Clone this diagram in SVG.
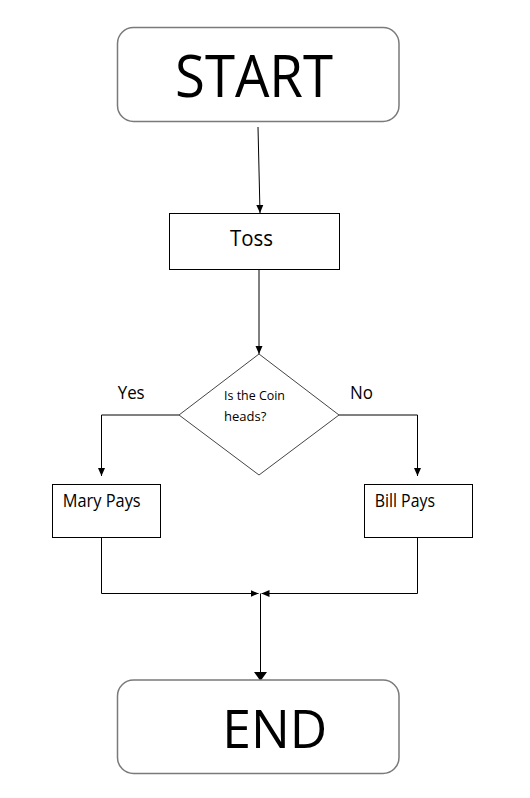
<svg xmlns="http://www.w3.org/2000/svg" width="530" height="798" viewBox="0 0 530 798">
<style>
.t{font-family:"Open Sans","Liberation Sans",sans-serif;fill:#000}
.term{fill:#fff;stroke:#7a7a7a;stroke-width:1.5}
.box{fill:#fff;stroke:#000;stroke-width:1}
.dia{fill:#fff;stroke:#444;stroke-width:1}
.ln{fill:none;stroke:#000;stroke-width:1}
</style>
<defs>
<marker id="ah" markerUnits="userSpaceOnUse" markerWidth="8" markerHeight="8" refX="8" refY="4" orient="auto">
<path d="M0,0.5 L8,4 L0,7.5 Z" fill="#000"/>
</marker>
<marker id="ahb" markerUnits="userSpaceOnUse" markerWidth="10" markerHeight="14" refX="9" refY="7" orient="auto">
<path d="M0,0.5 L9,7 L0,13.5 Z" fill="#000"/>
</marker>
</defs>
<rect width="530" height="798" fill="#fff"/>
<g id="connectors">
<line class="ln" x1="258" y1="127" x2="260" y2="213" marker-end="url(#ah)"/>
<line class="ln" x1="259" y1="269" x2="259" y2="354" marker-end="url(#ah)"/>
<polyline class="ln" points="179,415 101.5,415 101.5,476" marker-end="url(#ah)"/>
<polyline class="ln" points="339,415 417.5,415 417.5,476" marker-end="url(#ah)"/>
<polyline class="ln" points="101.5,537 101.5,593.5 258.5,593.5" marker-end="url(#ah)"/>
<polyline class="ln" points="417.5,537 417.5,593.5 261.5,593.5" marker-end="url(#ah)"/>
<line class="ln" x1="260.5" y1="593.5" x2="260.5" y2="681" marker-end="url(#ahb)"/>
</g>
<g id="start">
<rect class="term" x="117.5" y="27.5" width="281.5" height="94" rx="16"/>
<text class="t" x="175" y="97" font-size="59" textLength="158" lengthAdjust="spacingAndGlyphs">START</text>
</g>
<g id="toss">
<rect class="box" x="169.5" y="213.5" width="170" height="56"/>
<text class="t" x="230" y="246" font-size="21.5" textLength="43" lengthAdjust="spacingAndGlyphs">Toss</text>
</g>
<g id="decision">
<polygon class="dia" points="259,354 339,415 259,475 179,415"/>
<text class="t" x="224" y="400" font-size="11.7" textLength="61" lengthAdjust="spacingAndGlyphs">Is the Coin</text>
<text class="t" x="224" y="420.7" font-size="11.7" textLength="42.3" lengthAdjust="spacingAndGlyphs">heads?</text>
</g>
<g id="label-yes">
<text class="t" x="117.7" y="399" font-size="18.7" textLength="27" lengthAdjust="spacingAndGlyphs">Yes</text>
</g>
<g id="label-no">
<text class="t" x="350" y="399" font-size="18.7" textLength="23" lengthAdjust="spacingAndGlyphs">No</text>
</g>
<g id="mary">
<rect class="box" x="52.5" y="484.5" width="108" height="53"/>
<text class="t" x="62.7" y="506.7" font-size="17.3" textLength="78" lengthAdjust="spacingAndGlyphs">Mary Pays</text>
</g>
<g id="bill">
<rect class="box" x="364.5" y="484.5" width="108" height="53"/>
<text class="t" x="374.7" y="506.7" font-size="17.3" textLength="60.3" lengthAdjust="spacingAndGlyphs">Bill Pays</text>
</g>
<g id="end">
<rect class="term" x="117.5" y="680" width="281.5" height="93.5" rx="16"/>
<text class="t" x="222.3" y="748.3" font-size="53" textLength="105" lengthAdjust="spacingAndGlyphs">END</text>
</g>
</svg>
